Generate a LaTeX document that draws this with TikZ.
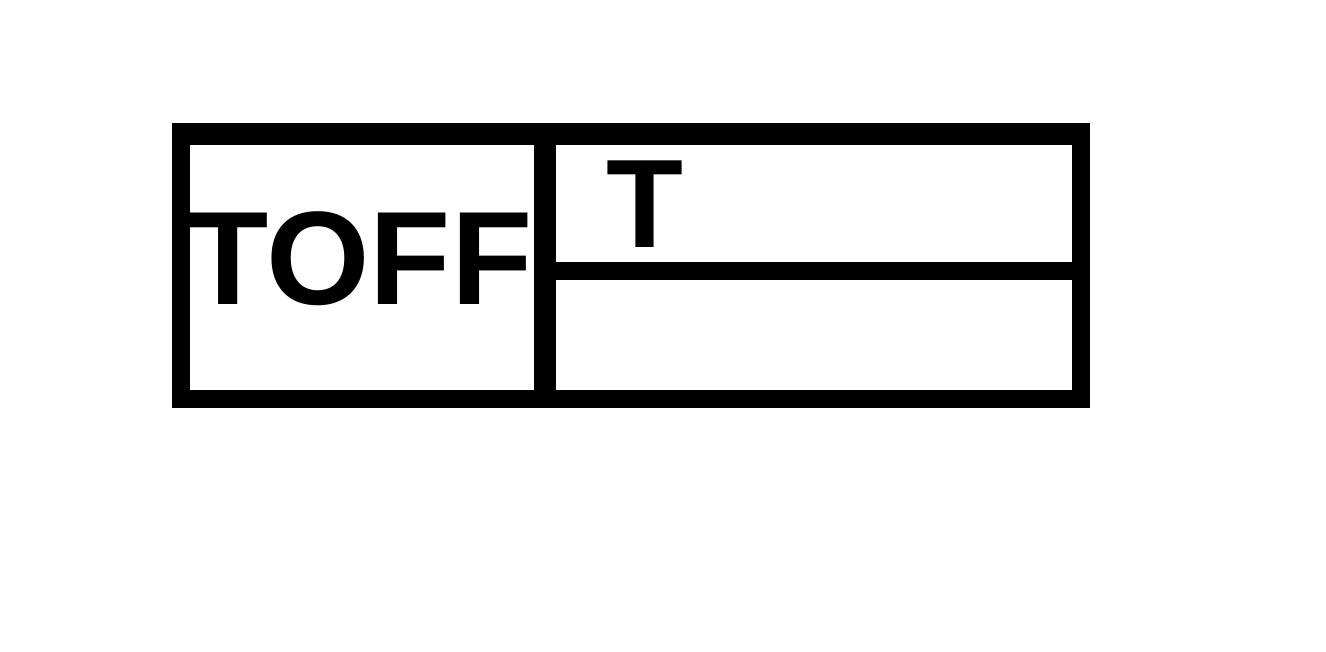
\documentclass[tikz,border=0pt]{standalone}
\usepackage{fontspec}
\setmainfont{Liberation Sans}
\usepackage{tikz}
\usetikzlibrary{positioning, calc}

\begin{document}
\begin{tikzpicture}[x=1pt, y=-1pt,
  frame/.style={draw, line width=18pt, line join=miter},
  bar/.style={draw, line width=#1},
  label/.style={inner sep=0pt, anchor=base, font=\bfseries\fontsize{#1}{#1}\selectfont}
]
  \useasboundingbox (0,0) rectangle (1326,652);
  \draw[frame] (181,135) rectangle (1081,399);
  \draw[bar=22pt] (172,134) -- (1090,134);
  \coordinate (divtop) at (545,134);
  \coordinate (divbot) at (545,399);
  \draw[bar=22pt] (divtop) -- (divbot);
  \coordinate (midleft) at (545,271);
  \coordinate (midright) at (1081,271);
  \draw[bar=18pt] (midleft) -- (midright);
  \node[label=133] (toff) at (360,305) {TOFF};
  \node[label=126] (tlabel) at (645,248) {T};
\end{tikzpicture}
\end{document}
